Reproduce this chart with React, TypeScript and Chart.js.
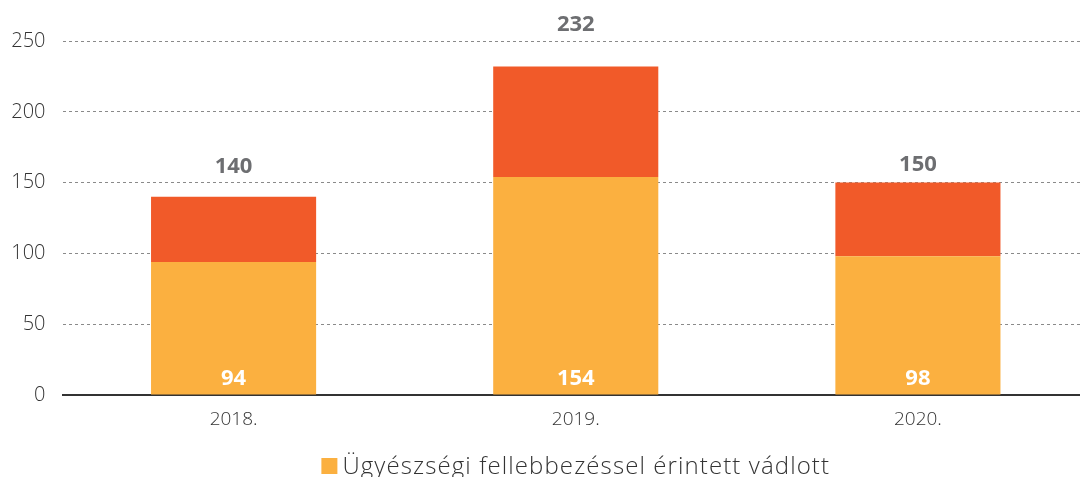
import React, { useEffect, useRef } from "react";
import { Chart, registerables } from "chart.js";

Chart.register(...registerables);

const categories = ["2018.", "2019.", "2020."];
const appealedValues = [94, 154, 98];
const otherValues = [46, 78, 52];
const yTicks = [0, 50, 100, 150, 200, 250];
const legendLabel = "Ügyészségi fellebbezéssel érintett vádlott";
const totalLabelOffsets = [30, 42, 18];

const COLOR_BOTTOM = "#FBB040";
const COLOR_TOP = "#F15A29";

const labelPlugin = {
  id: "valueLabels",
  afterDatasetsDraw(chart: any) {
    const ctx = chart.ctx;
    const m0 = chart.getDatasetMeta(0);
    const m1 = chart.getDatasetMeta(1);
    ctx.save();
    ctx.textAlign = "center";
    ctx.textBaseline = "middle";
    ctx.font = "700 22px 'Open Sans'";
    m0.data.forEach((bar: any, i: number) => {
      ctx.fillStyle = "#FFFFFF";
      ctx.fillText(String(appealedValues[i]), bar.x, bar.base - 16);
      const top = m1.data[i];
      ctx.fillStyle = "#6D6E71";
      ctx.fillText(
        String(appealedValues[i] + otherValues[i]),
        top.x,
        top.y - totalLabelOffsets[i]
      );
    });
    ctx.restore();
  },
};

const legendPlugin = {
  id: "customLegend",
  afterDraw(chart: any) {
    const ctx = chart.ctx;
    const ds = chart.data.datasets[0];
    ctx.save();
    ctx.font = "300 24px 'Open Sans'";
    (ctx as any).letterSpacing = "1.1px";
    const textW = ctx.measureText(ds.label).width;
    const box = 16;
    const gap = 5;
    const total = box + gap + textW;
    const cx = (chart.chartArea.left + chart.chartArea.right) / 2;
    const x0 = cx - total / 2;
    const baseline = 474;
    ctx.fillStyle = ds.backgroundColor;
    ctx.fillRect(x0, baseline - 16, box, box);
    ctx.fillStyle = "#333333";
    ctx.textAlign = "left";
    ctx.textBaseline = "alphabetic";
    ctx.fillText(ds.label, x0 + box + gap, baseline);
    ctx.restore();
  },
};

export default function App() {
  const ref = useRef<HTMLCanvasElement>(null);
  useEffect(() => {
    document.body.style.margin = "0";
    const chart = new Chart(ref.current!, {
      type: "bar",
      data: {
        labels: categories,
        datasets: [
          {
            label: legendLabel,
            data: appealedValues,
            backgroundColor: COLOR_BOTTOM,
            barPercentage: 0.4825,
            categoryPercentage: 1,
          },
          {
            label: "other",
            data: otherValues,
            backgroundColor: COLOR_TOP,
            barPercentage: 0.4825,
            categoryPercentage: 1,
          },
        ],
      },
      options: {
        responsive: false,
        animation: false,
        layout: { padding: { top: 41, left: 0, right: 0, bottom: 36 } },
        plugins: {
          tooltip: { enabled: false },
          legend: { display: false },
        },
        scales: {
          x: {
            stacked: true,
            grid: { display: false, drawTicks: false },
            border: { display: true, color: "#333333", width: 2 },
            ticks: {
              color: "#333333",
              padding: 13,
              font: { family: "'Open Sans'", size: 19, weight: "300" as any },
            },
            afterFit: (s: any) => {
              s.height = 46;
            },
          },
          y: {
            stacked: true,
            min: 0,
            max: 250,
            afterBuildTicks: (s: any) => {
              s.ticks = yTicks.map((v) => ({ value: v }));
            },
            grid: {
              drawTicks: false,
              color: "#8a8a8a",
              lineWidth: 1,
            },
            border: { display: false, dash: [3, 3] },
            ticks: {
              color: "#333333",
              padding: 17,
              font: { family: "'Open Sans'", size: 20, weight: "300" as any },
            },
            afterFit: (s: any) => {
              s.width = 62.5;
            },
          },
        },
      },
      plugins: [labelPlugin, legendPlugin],
    });
    return () => chart.destroy();
  }, []);
  return (
    <div
      style={{
        position: "fixed",
        left: 0,
        top: 0,
        width: 1080,
        height: 477,
        overflow: "hidden",
        background: "#fff",
      }}
    >
      <canvas ref={ref} width={1089} height={477} style={{ width: 1089, height: 477 }} />
    </div>
  );
}
